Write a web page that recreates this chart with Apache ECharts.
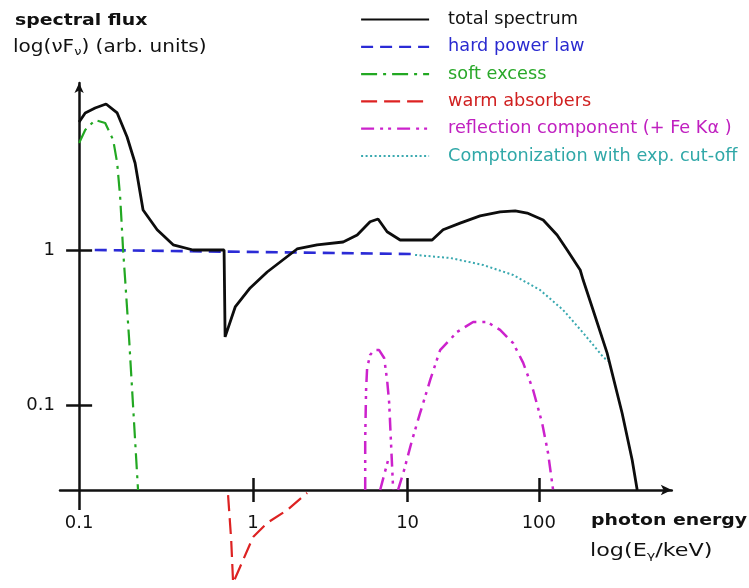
<!DOCTYPE html>
<html><head><meta charset="utf-8">
<script src="https://cdn.jsdelivr.net/npm/echarts@6/dist/echarts.min.js"></script>
<style>html,body{margin:0;padding:0;background:#fff}#c{width:749px;height:588px}</style>
</head><body><div id="c"></div>
<script>
// Horizontal coordinate: position along the drawn (schematic) energy axis,
// 0 = 0.1 keV tick; tick labels give the energies in keV.
const xTickLabels = ['0.1', '1', '10', '100'];
const xTickPos = [0, 1, 1.89, 2.645];
const yTickValues = [0.1, 1];

const totalSpectrum = [[0,6.70],[0.035,7.66],[0.092,8.24],[0.155,8.75],[0.219,7.66],[0.276,5.36],[0.322,3.64],[0.368,1.81],[0.449,1.35],[0.541,1.08],[0.656,1.00],[0.834,1.00],[0.840,0.275],[0.898,0.429],[0.984,0.569],[1.082,0.721],[1.254,1.015],[1.369,1.08],[1.519,1.126],[1.600,1.25],[1.674,1.52],[1.720,1.585],[1.772,1.31],[1.847,1.16],[2.031,1.16],[2.094,1.35],[2.192,1.49],[2.307,1.66],[2.422,1.76],[2.509,1.79],[2.578,1.73],[2.670,1.56],[2.750,1.25],[2.808,1.00],[2.883,0.743],[2.900,0.640],[2.957,0.410],[3.038,0.216],[3.124,0.0888],[3.182,0.0442],[3.211,0.0283]];
const hardPowerLaw = [[0.09,1.0],[1.92,0.942]];
const comptonization = [[1.933,0.929],[2.135,0.888],[2.325,0.800],[2.497,0.690],[2.652,0.552],[2.785,0.410],[2.900,0.292],[3.015,0.204],[3.044,0.192]];
const softExcess = [[0,4.90],[0.035,5.94],[0.092,6.90],[0.150,6.60],[0.196,5.13],[0.219,3.64],[0.236,2.20],[0.242,1.68],[0.253,1.00],[0.265,0.640],[0.288,0.263],[0.305,0.125],[0.322,0.0595],[0.339,0.0283]];
const warmAbsorbers = [[0.857,0.0262],[0.875,0.01346],[0.886,0.00711],[0.926,0.00901],[1.001,0.01407],[1.082,0.01733],[1.197,0.0210],[1.312,0.0271]];
const reflectionFeLine = [[1.646,0.0283],[1.646,0.0595],[1.651,0.125],[1.657,0.173],[1.674,0.210],[1.697,0.226],[1.726,0.226],[1.755,0.201],[1.772,0.145],[1.784,0.103],[1.795,0.0552],[1.807,0.0283]];
const reflectionEdge = [[1.732,0.0283],[1.778,0.0442]];
const reflectionHump = [[1.835,0.0283],[1.870,0.0381],[1.916,0.0595],[1.962,0.0888],[2.020,0.145],[2.077,0.226],[2.175,0.296],[2.267,0.343],[2.348,0.343],[2.422,0.305],[2.497,0.251],[2.555,0.187],[2.612,0.125],[2.664,0.0765],[2.698,0.0490],[2.727,0.0283]];

const FONT = 'DejaVu Sans';
const AXC = '#111';
const C = {total:'#0d0d0d', hard:'#2b2bd6', soft:'#22a822', warm:'#dd2222', refl:'#cc22cc', comp:'#3aa9b0'};
const N = {total:'total spectrum', hard:'hard power law', soft:'soft excess', warm:'warm absorbers', refl:'reflection component (+ Fe K\u03b1 )', comp:'Comptonization with exp. cut-off'};

const X_MIN = -0.11, X_MAX = 3.41;
const Y_MIN = 0.02828, Y_MAX = 11.95;

function line(name, data, color, width, type) {
  return {type:'line', name, data, symbol:'none', showSymbol:false, clip:false, silent:true,
    lineStyle:{color, width, type}, itemStyle:{color}, animation:false};
}
const labelFor = v => { const i = xTickPos.indexOf(v); return i >= 0 ? xTickLabels[i] : ''; };
const xBase = {type:'value', min:X_MIN, max:X_MAX, position:'bottom', splitLine:{show:false}};
const yBase = {type:'log', min:Y_MIN, max:Y_MAX, position:'left', splitLine:{show:false}};

const chart = echarts.init(document.getElementById('c'), null, {renderer:'canvas'});
chart.setOption({
  animation:false,
  grid:{left:60, right:77.2, top:83, bottom:98},
  xAxis:[
    Object.assign({}, xBase, {
      axisLine:{show:true, onZero:false, symbol:['none','arrow'], symbolSize:[8,11], lineStyle:{color:AXC, width:2.5}},
      axisTick:{show:true, customValues:[xTickPos[0]], length:20, inside:false, lineStyle:{color:AXC, width:2.5}},
      axisLabel:{show:true, customValues:xTickPos, formatter:labelFor, margin:24, color:AXC, fontFamily:FONT, fontSize:18}
    }),
    Object.assign({}, xBase, {
      axisLine:{show:false, onZero:false},
      axisTick:{show:true, customValues:xTickPos.slice(1), length:12, inside:false, lineStyle:{color:AXC, width:2.5}},
      axisLabel:{show:false}
    }),
    Object.assign({}, xBase, {
      axisLine:{show:false, onZero:false},
      axisTick:{show:true, customValues:xTickPos.slice(1), length:12, inside:true, lineStyle:{color:AXC, width:2.5}},
      axisLabel:{show:false}
    })
  ],
  yAxis:[
    Object.assign({}, yBase, {
      axisLine:{show:true, onZero:true, symbol:['none','arrow'], symbolSize:[7,10], lineStyle:{color:AXC, width:2.5}},
      axisTick:{show:true, customValues:yTickValues, length:13, inside:false, lineStyle:{color:AXC, width:2.5}},
      axisLabel:{show:true, customValues:yTickValues, formatter:v => String(v), margin:5, color:AXC, fontFamily:FONT, fontSize:18}
    }),
    Object.assign({}, yBase, {
      axisLine:{show:false, onZero:true},
      axisTick:{show:true, customValues:yTickValues, length:13, inside:true, lineStyle:{color:AXC, width:2.5}},
      axisLabel:{show:false}
    })
  ],
  legend:{
    orient:'vertical', left:360, top:10.5, padding:0, itemWidth:68, itemHeight:14, itemGap:9.3,
    selectedMode:false,
    itemStyle:{opacity:0, color:'rgba(0,0,0,0)', borderWidth:0},
    textStyle:{fontFamily:FONT, fontSize:17.7, padding:[0,0,0,14]},
    lineStyle:{width:2.2},
    data:[
      {name:N.total, textStyle:{color:'#111'}},
      {name:N.hard, textStyle:{color:'#2a2ad0'}},
      {name:N.soft, textStyle:{color:'#2aa82a'}},
      {name:N.warm, textStyle:{color:'#d02020'}},
      {name:N.refl, textStyle:{color:'#c020c0'}},
      {name:N.comp, textStyle:{color:'#30a8a8'}}
    ]
  },
  graphic:[
    {type:'text', x:15, y:20.5, scaleX:1.18, silent:true,
      style:{text:'spectral flux', fontFamily:FONT, fontWeight:'bold', fontSize:16, fill:'#111', verticalAlign:'middle', align:'left'}},
    {type:'text', x:13, y:47.5, scaleX:1.18, silent:true,
      style:{text:'{a|log(\u03bdF}{s|\u03bd}{a|) (arb. units)}', verticalAlign:'middle', align:'left',
        rich:{a:{fontFamily:FONT, fontSize:17, lineHeight:20, fill:'#111'},
              s:{fontFamily:FONT, fontSize:11, lineHeight:12, verticalAlign:'bottom', fill:'#111'}}}},
    {type:'text', x:591, y:521, scaleX:1.18, silent:true,
      style:{text:'photon energy', fontFamily:FONT, fontWeight:'bold', fontSize:16, fill:'#111', verticalAlign:'middle', align:'left'}},
    {type:'text', x:590, y:552, scaleX:1.31, silent:true,
      style:{text:'{a|log(E}{s|\u03b3}{a|/keV)}', verticalAlign:'middle', align:'left',
        rich:{a:{fontFamily:FONT, fontSize:17, lineHeight:20, fill:'#111'},
              s:{fontFamily:FONT, fontSize:11, lineHeight:12, verticalAlign:'bottom', fill:'#111'}}}}
  ],
  series:[
    line(N.comp, comptonization, C.comp, 2, [2, 2.5]),
    line(N.hard, hardPowerLaw, C.hard, 2.6, [12, 7]),
    line(N.soft, softExcess, C.soft, 2.2, [16, 6, 3, 6]),
    line(N.warm, warmAbsorbers, C.warm, 2.2, [16, 7]),
    line(N.refl, reflectionFeLine, C.refl, 2.5, [13, 6, 3, 5, 3, 6]),
    line(N.refl, reflectionEdge, C.refl, 2.5, [13, 6, 3, 5, 3, 6]),
    line(N.refl, reflectionHump, C.refl, 2.5, [13, 6, 3, 5, 3, 6]),
    line(N.total, totalSpectrum, C.total, 2.8, 'solid')
  ]
});
</script></body></html>
